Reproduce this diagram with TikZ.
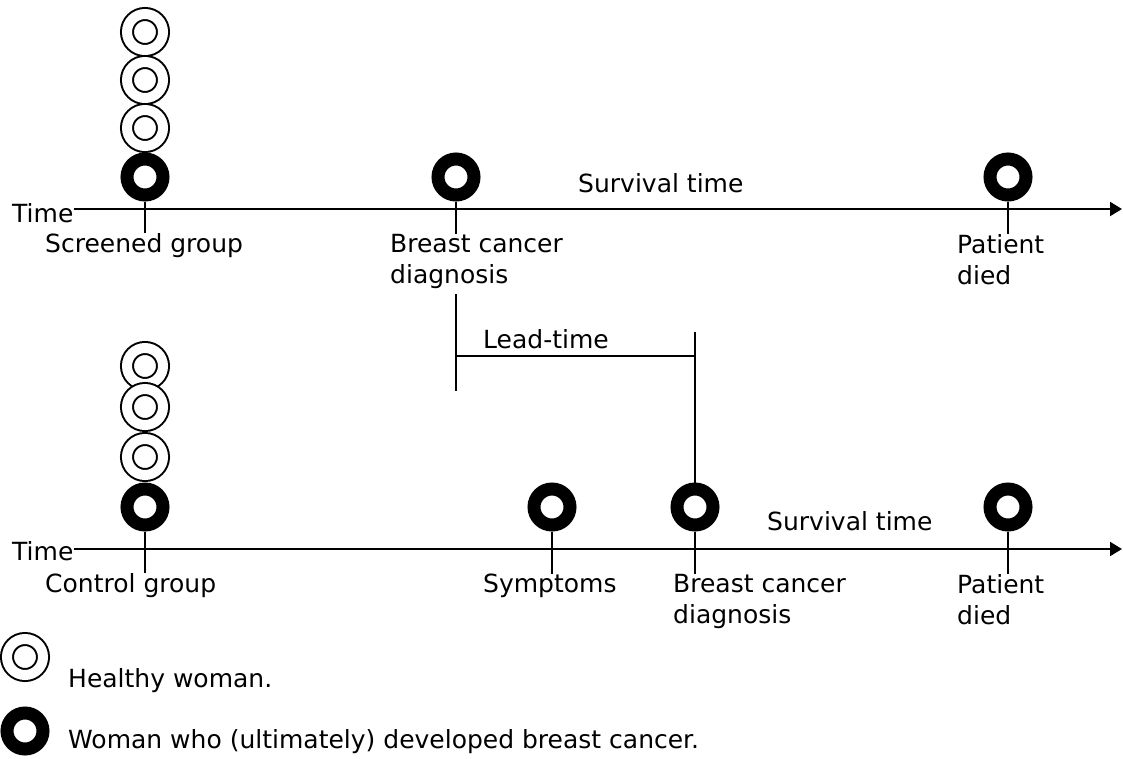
\documentclass[tikz,border=0pt]{standalone}
\usepackage{fontspec}
\setmainfont{DejaVu Sans}
\usetikzlibrary{arrows.meta}

\begin{document}
\begin{tikzpicture}[
    x=1pt, y=-1pt,
    font=\fontsize{25}{31}\selectfont,
    healthy/.style={circle, draw, line width=2pt, double, double distance=10pt, minimum size=36pt, inner sep=0pt},
    cancer/.style={circle, draw, line width=13pt, minimum size=36pt, inner sep=0pt},
    lab/.style={anchor=north west, inner sep=0pt, align=left},
    word/.style={anchor=base west, inner sep=0pt},
    axis/.style={line width=2pt, -{Triangle[length=12pt, width=14pt]}},
    tick/.style={line width=2pt}
]
\useasboundingbox (0,0) rectangle (1123,758);

% Screened group
\node[healthy] (s1) at (145,32) {};
\node[healthy] (s2) at (145,80) {};
\node[healthy] (s3) at (145,128) {};
\node[cancer] (s4) at (145,177) {};
\node[cancer] (sd) at (456,177) {};
\node[cancer] (sp) at (1008,177) {};

\node[word] (t1) at (12,222) {Time};
\coordinate (e1) at (1122,209);
\draw[axis] (t1.east |- e1) -- (e1);

\node[lab] (sl) at (45,233) {Screened group};
\node[lab] (sdl) at (390,234) {Breast cancer\\diagnosis};
\node[lab] (spl) at (957,234) {Patient\\died};
\node[word] (sv1) at (578,192) {Survival time};

\draw[tick] (s4) -- (s4 |- sl.north);
\draw[tick] (sd) -- (sd |- sdl.north);
\draw[tick] (sp) -- (sp |- spl.north);

% Control group
\node[healthy] (c1) at (145,366) {};
\node[healthy] (c2) at (145,407) {};
\node[healthy] (c3) at (145,457) {};
\node[cancer] (c4) at (145,507) {};
\node[cancer] (cs) at (552,507) {};
\node[cancer] (cd) at (695,507) {};
\node[cancer] (cp) at (1008,507) {};

\node[word] (t2) at (12,560) {Time};
\coordinate (e2) at (1122,549);
\draw[axis] (t2.east |- e2) -- (e2);

\node[lab] (cl) at (45,573) {Control group};
\node[lab] (csl) at (483,574) {Symptoms};
\node[lab] (cdl) at (673,574) {Breast cancer\\diagnosis};
\node[lab] (cpl) at (957,574) {Patient\\died};
\node[word] (sv2) at (767,530) {Survival time};

\draw[tick] (c4) -- (c4 |- cl.north);
\draw[tick] (cs) -- (cs |- csl.north);
\draw[tick] (cd) -- (cd |- cdl.north);
\draw[tick] (cp) -- (cp |- cpl.north);

% Lead-time
\coordinate (la) at (456,294);
\coordinate (lb) at (456,391);
\coordinate (lh) at (456,356);
\coordinate (lc) at (695,332);
\draw[tick] (la) -- (lb);
\draw[tick] (lh) -- (lh -| lc);
\draw[tick] (lc) -- (cd);
\node[word] (lt) at (483,348) {Lead-time};

% Legend
\node[healthy] (kh) at (25,657) {};
\node[cancer] (kc) at (25,731) {};
\node[word] (khl) at (68,687) {Healthy woman.};
\node[word] (kcl) at (68,748) {Woman who (ultimately) developed breast cancer.};

\end{tikzpicture}
\end{document}
